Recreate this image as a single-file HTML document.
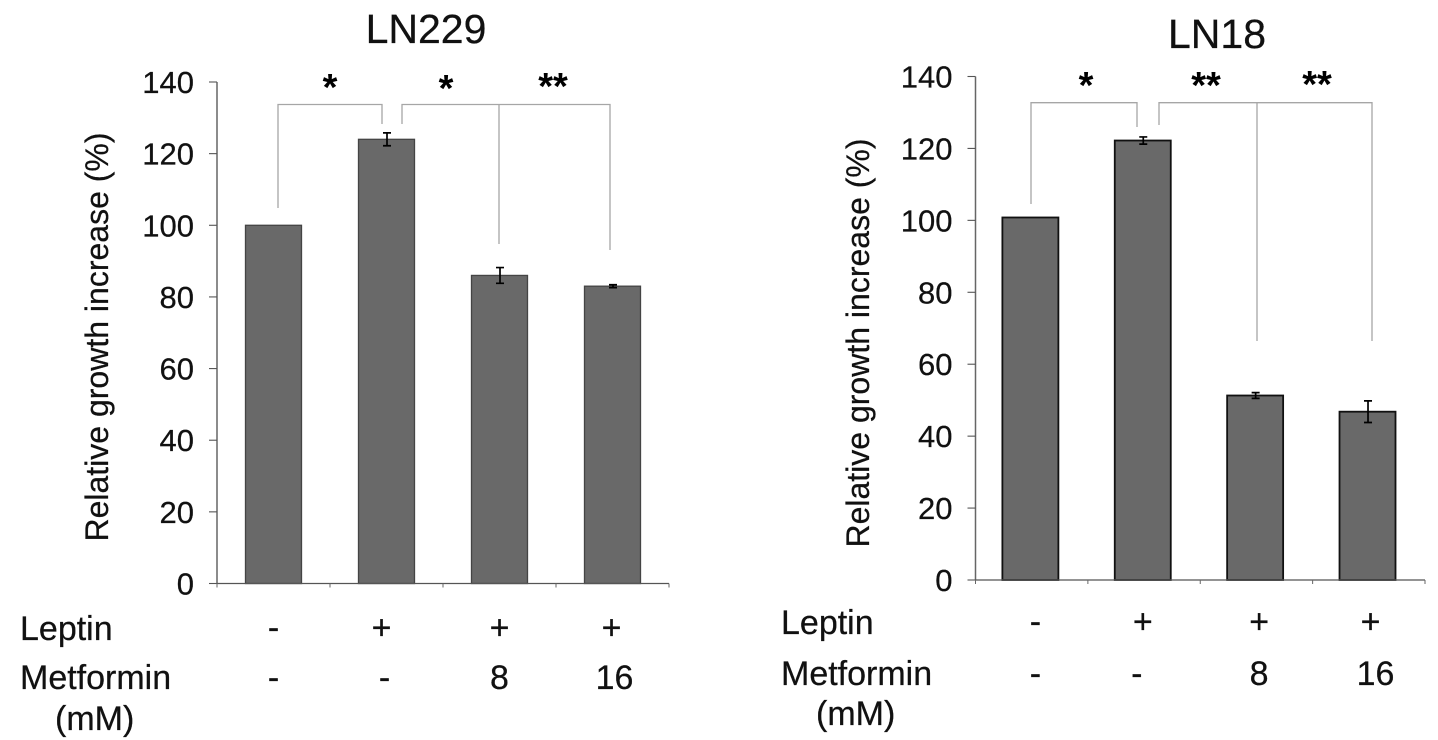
<!DOCTYPE html>
<html>
<head>
<meta charset="utf-8">
<style>
html,body{margin:0;padding:0;background:#fff;}
svg{display:block;}
text{font-family:"Liberation Sans",sans-serif;fill:#111;stroke:#111;stroke-width:0.25px;}
</style>
</head>
<body>
<svg id="fig" width="1438" height="740" viewBox="0 0 1438 740" xmlns="http://www.w3.org/2000/svg"></svg>
<script>
const categories = ['ctrl', 'leptin', 'leptin-met8', 'leptin-met16'];
const tickLabels = [0, 20, 40, 60, 80, 100, 120, 140];
const leptinRow = ['-', '+', '+', '+'];
const metforminRow = ['-', '-', '8', '16'];
const valuesLN229 = [100, 124, 86, 83];
const errorsLN229 = [0, 1.8, 2.2, 0.4];
const valuesLN18 = [100.8, 122.2, 51.3, 46.8];
const errorsLN18 = [0, 1, 0.8, 3];

const NS = 'http://www.w3.org/2000/svg';
const svg = document.getElementById('fig');
function mk(tag, attrs, parent, txt) {
  const el = document.createElementNS(NS, tag);
  for (const k in attrs) el.setAttribute(k, attrs[k]);
  if (txt !== undefined) el.textContent = txt;
  (parent || svg).appendChild(el);
  return el;
}
function drawChart(o) {
  const g = mk('g', {}, svg);
  
  
  const yScale = v => o.y0 + (o.y140 - o.y0) * v / 140;
  const step = (o.xEnd - o.xAxis) / categories.length;
  const xScale = i => o.xAxis + step * (i + 0.5) + o.barShift;

  const title = mk('text', {x: o.titleX, y: o.titleY, 'text-anchor': 'middle', 'font-size': 41}, g, o.id);
  
  

  const yTitle = mk('text', {transform: `translate(${o.yTitleX},${o.yTitleY}) rotate(-90)`, 'text-anchor': 'middle', 'font-size': 32}, g, 'Relative growth increase (%)');
  
  

  o.values.forEach((v, i) => {
    const top = yScale(v);
    const bar = mk('rect', {x: xScale(i) - 28, y: top, width: 56, height: o.y0 - top, fill: '#696969', stroke: o.barStroke, 'stroke-width': o.barStrokeWidth}, g);
    
    
    const e = o.errors[i];
    if (e > 0) {
      const eb = mk('path', {
        d: `M${xScale(i) + 0.5} ${yScale(v + e)}V${yScale(v - e)}M${xScale(i) - 3.5} ${yScale(v + e)}h8M${xScale(i) - 3.5} ${yScale(v - e)}h8`,
        stroke: '#000', 'stroke-width': 1.7, fill: 'none'}, g);
      
      
    }
  });

  const yAxis = mk('line', {x1: o.xAxis, x2: o.xAxis, y1: o.y140, y2: o.y0, stroke: '#666', 'stroke-width': 1.5}, g);
  
  
  const xAxis = mk('line', {x1: o.xAxis, x2: o.xEnd, y1: o.y0, y2: o.y0, stroke: '#555', 'stroke-width': 1.3}, g);
  
  

  tickLabels.forEach(t => {
    const y = yScale(t);
    const tick = mk('line', {x1: o.xAxis - 8, x2: o.xAxis, y1: y, y2: y, stroke: '#555', 'stroke-width': 1.1}, g);
    
    
    const lab = mk('text', {x: o.xAxis - 23, y: y + 11, 'text-anchor': 'end', 'font-size': 31}, g, t);
    
    
  });
  for (let i = 0; i <= categories.length; i++) {
    const x = o.xAxis + step * i;
    const tick = mk('line', {x1: x, x2: x, y1: o.y0, y2: o.y0 + 4, stroke: '#666', 'stroke-width': 1}, g);
    
    
  }

  o.brackets.forEach(d => {
    const b = mk('path', {d: d, fill: 'none', stroke: '#a6a6a6', 'stroke-width': 1.3}, g);
    
    
  });
  o.stars.forEach(s => {
    const st = mk('text', {x: s[0], y: s[1], 'text-anchor': 'middle', 'font-size': 38, 'font-weight': 'bold', style: 'fill:#000;stroke:none'}, g, s[2]);
    
    
  });

  const lLep = mk('text', {x: o.labelX, y: o.leptinY, 'font-size': 34}, g, 'Leptin');
  
  
  const lMet = mk('text', {x: o.labelX, y: o.metY, 'font-size': 34}, g, 'Metformin');
  
  
  const lMM = mk('text', {x: o.labelX + 35, y: o.mmY, 'font-size': 34}, g, '(mM)');
  
  

  leptinRow.forEach((t, i) => {
    const c = mk('text', {x: xScale(i) + o.lepShift[i], y: o.leptinY - 1, 'text-anchor': 'middle', 'font-size': 34}, g, t);
    
    
  });
  metforminRow.forEach((t, i) => {
    const c = mk('text', {x: xScale(i) + o.metShift[i], y: o.metY, 'text-anchor': 'middle', 'font-size': 34}, g, t);
    
    
  });
}

drawChart({
  id: 'LN229', values: valuesLN229, errors: errorsLN229,
  xAxis: 217, xEnd: 669, y0: 583.5, y140: 82, barShift: 0,
  barStroke: '#444', barStrokeWidth: 1.3,
  titleX: 426, titleY: 43, yTitleX: 108, yTitleY: 337,
  labelX: 20, leptinY: 640, metY: 689, mmY: 730,
  lepShift: [0, -5, 0, -1], metShift: [0, -2, 0, 2],
  brackets: ['M278 208V104.5H382V124', 'M402 124V104.5H610V250', 'M499 104.5V244'],
  stars: [[330, 100, '*'], [446, 101, '*'], [553, 99, '**']]
});
drawChart({
  id: 'LN18', values: valuesLN18, errors: errorsLN18,
  xAxis: 975.5, xEnd: 1425, y0: 580, y140: 76.5, barShift: -1.3,
  barStroke: '#111', barStrokeWidth: 1.8,
  titleX: 1217, titleY: 48, yTitleX: 869, yTitleY: 343,
  labelX: 781, leptinY: 634, metY: 685, mmY: 725,
  lepShift: [5, 0, 4, 3], metShift: [5, -6, 4, 8],
  brackets: ['M1031 204V102.7H1137V127', 'M1159 125V102.7H1372V341', 'M1257 102.7V341'],
  stars: [[1086, 98, '*'], [1206, 98, '**'], [1317, 97, '**']]
});
</script>
</body>
</html>
